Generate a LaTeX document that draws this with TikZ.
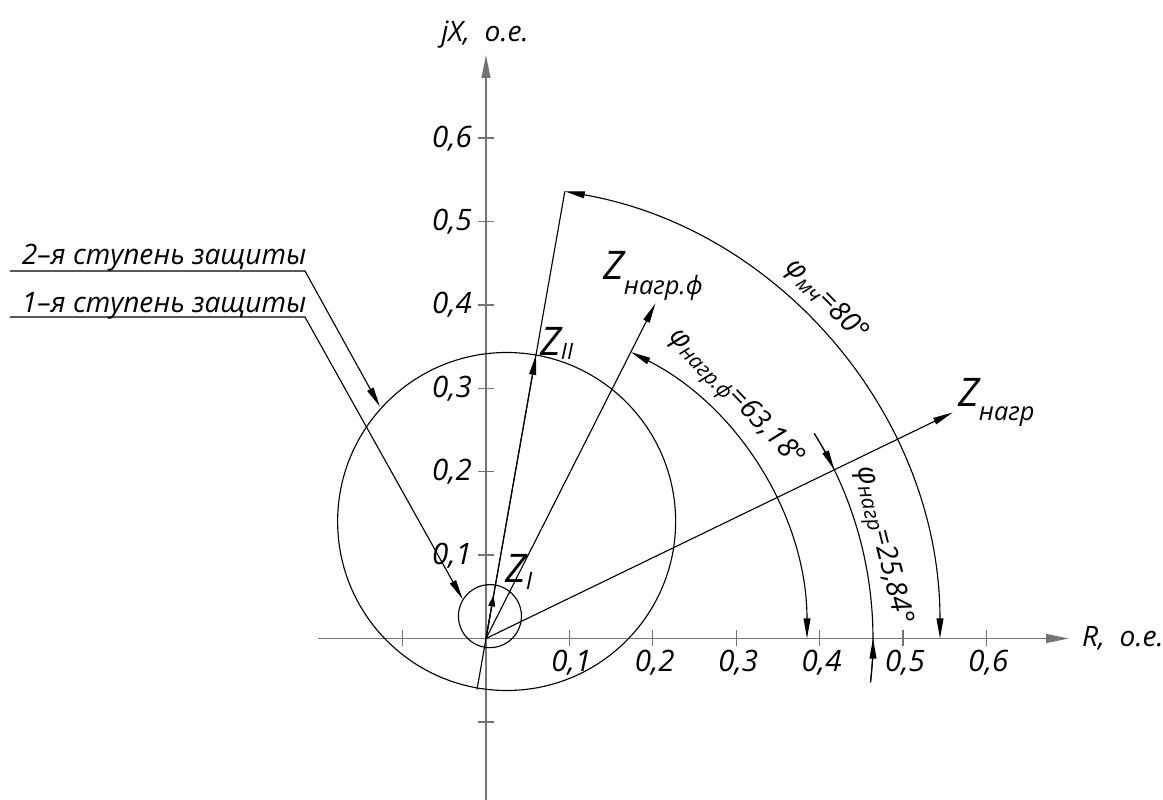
\documentclass[tikz,border=0pt]{standalone}
\usepackage{fontspec}
\setmainfont{Open Sans}
\usetikzlibrary{arrows.meta}
\newcommand\zsb[3]{\raisebox{-#2cm}{\fontsize{#1}{#1}\selectfont #3}}
\begin{document}
\begin{tikzpicture}[x=0.025cm,y=0.025cm,
  every node/.style={inner sep=0pt,outer sep=0pt},
  ln/.style={line width=0.8pt,black},
  ax/.style={line width=1.1pt,black!55},
  tk/.style={line width=0.9pt,black!55},
  tip/.style={-{Triangle[length=0.5cm,width=0.17cm]}},
  btip/.style={{Triangle[length=0.5cm,width=0.17cm]}-{Triangle[length=0.5cm,width=0.17cm]}},
  axtip/.style={-{Triangle[length=0.57cm,width=0.22cm]}},
  num/.style={font=\fontsize{21}{24}\selectfont\itshape},
  lbl/.style={font=\fontsize{20}{24}\selectfont\itshape},
  zl/.style={font=\fontsize{28}{30}\selectfont\itshape,anchor=base west},
  note/.style={font=\fontsize{20}{24}\selectfont\itshape,anchor=base west}]
\useasboundingbox (-486,-161.5) rectangle (677,638.5);
\coordinate (O) at (0,0);
% axes
\coordinate (xs) at (-168,0); \coordinate (xe) at (583,0);
\coordinate (ys) at (0,-161.5); \coordinate (ye) at (0,583.5);
\draw[ax,axtip] (xs) -- (xe);
\draw[ax,axtip] (ys) -- (ye);
\foreach \k in {-1,1,2,3,4,5,6}{
  \draw[tk] (\k*83.4,-8) -- (\k*83.4,8);
  \draw[tk] (-8,\k*83.4) -- (8,\k*83.4);}
\foreach \k in {1,...,6}{
  \node[num,anchor=north] (xl\k) at (\k*83.4+2,-11.5) {0,\k};
  \node[num,anchor=base east] (yl\k) at (-14,\k*83.4-9) {0,\k};}
\node[font=\fontsize{20}{24}\selectfont\itshape,anchor=base] (jx) at (-1,596.5) {jX,\ \ o.e.};
\node[font=\fontsize{20}{24}\selectfont\itshape,anchor=base west] (rx) at (596,-8) {R,\ \ o.e.};
% circles
\coordinate (c2) at (80:118.8);
\coordinate (c1) at (80:22.7);
\draw[ln] (c2) circle[radius=169];
\draw[ln] (c1) circle[radius=31.5];
% vectors
\coordinate (L0) at (260:51.8);
\coordinate (Lm) at (80:454);
\coordinate (ZI) at (80:44);
\coordinate (ZII) at (80:288);
\coordinate (ZF) at (63.18:375.6);
\coordinate (ZN) at (25.84:518.6);
\draw[ln] (L0) -- (Lm);
\draw[ln,-{Triangle[length=0.28cm,width=0.17cm]}] (O) -- (ZI);
\draw[ln,tip] (O) -- (ZII);
\draw[ln,tip] (O) -- (ZF);
\draw[ln,tip] (O) -- (ZN);
% angle arcs
\draw[ln,btip] (0:454) arc[start angle=0,end angle=80,radius=454];
\draw[ln,btip] (0:321) arc[start angle=0,end angle=63.18,radius=321];
\draw[ln] (32:387) arc[start angle=32,end angle=-6.5,radius=387];
\draw[ln,tip] (32:387) arc[start angle=32,end angle=25.84,radius=387];
\draw[ln,tip] (-6.5:387) arc[start angle=-6.5,end angle=0,radius=387];
% angle texts
\node[lbl,rotate=-45.2] (pm) at (44.8:479) {φ\zsb{15}{0.1}{мч}=80°};
\node[lbl,rotate=-46.1] (pf) at (43.9:346) {φ\zsb{15}{0.1}{нагр.ф}=63,18°};
\node[lbl,rotate=-76] (pn) at (13.2:407) {φ\zsb{15}{0.1}{нагр}=25,84°};
% Z labels
\node[zl] (tZF) at (117,358.5) {Z\zsb{18}{0.37}{нагр.ф}};
\node[zl] (tZII) at (54,282.5) {Z\zsb{16}{0.1}{II}};
\node[zl] (tZI) at (19,55.5) {Z\zsb{17}{0.17}{I}};
\node[zl] (tZN) at (472,231.5) {Z\zsb{18}{0.33}{нагр}};
% leaders
\node[note] (t2) at (-464,373.5) {2–я ступень защиты};
\node[note] (t1) at (-464,325.5) {1–я ступень защиты};
\coordinate (u2s) at (-476,367.5); \coordinate (u2e) at (-181,367.5);
\coordinate (a2) at (-106,231.8);
\coordinate (u1s) at (-476,321.5); \coordinate (u1e) at (-181,321.5);
\coordinate (a1) at (-23.3,39.2);
\draw[ln,tip] (u2s) -- (u2e) -- (a2);
\draw[ln,tip] (u1s) -- (u1e) -- (a1);
\end{tikzpicture}
\end{document}
